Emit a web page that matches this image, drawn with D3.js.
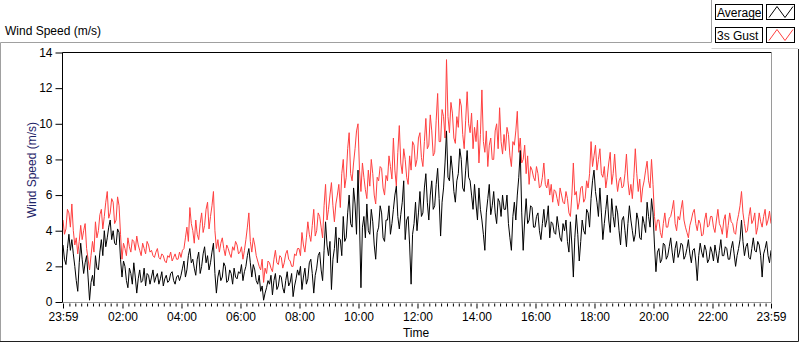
<!DOCTYPE html>
<html>
<head>
<meta charset="utf-8">
<script src="https://cdn.jsdelivr.net/npm/d3@7"></script>
<style>
  body { margin: 0; background: #fff; }
  svg text { font-family: "Liberation Sans", Arial, sans-serif; }
</style>
</head>
<body>
<svg id="chart" width="800" height="342"></svg>
<script>
// one reading every 3 minutes, 23:59 -> 23:59 next day (20 readings per row = 1 hour)
var gustSpeed = [
  4.6, 3.8, 4.1, 5.2, 5.0, 4.2, 5.5, 4.0, 3.2, 3.6, 2.7, 3.4, 4.3, 3.5, 4.0, 4.4, 3.0, 2.4, 1.8, 2.6,
  3.4, 2.8, 4.5, 3.6, 4.0, 4.9, 5.2, 4.1, 4.8, 5.6, 6.2, 4.7, 5.0, 5.8, 5.6, 4.4, 4.6, 5.9, 5.4, 3.8,
  2.4, 3.3, 3.0, 2.6, 3.6, 3.1, 2.8, 3.5, 3.4, 2.9, 3.7, 3.2, 2.9, 2.6, 3.3, 3.0, 2.7, 3.4, 3.2, 2.8,
  2.9, 2.6, 2.5, 2.8, 3.0, 2.5, 2.4, 2.7, 2.6, 2.3, 2.2, 2.6, 2.5, 2.8, 2.3, 2.5, 2.7, 2.4, 2.4, 2.8,
  2.5, 2.9, 3.0, 3.6, 4.2, 3.4, 5.3, 4.4, 4.0, 3.3, 4.6, 3.8, 3.5, 4.4, 5.0, 3.9, 4.3, 5.2, 5.6, 4.1,
  4.8, 5.4, 6.2, 4.0, 3.0, 3.5, 2.8, 3.3, 3.6, 3.0, 2.6, 3.2, 3.0, 2.7, 2.5, 3.1, 2.9, 3.4, 3.2, 2.7,
  2.8, 3.1, 2.4, 2.9, 3.5, 4.2, 5.0, 3.4, 2.8, 3.6, 3.2, 2.6, 2.3, 2.0, 1.8, 2.4, 1.1, 1.9, 1.6, 2.3,
  2.2, 1.9, 1.7, 2.4, 2.9, 2.2, 2.1, 2.6, 2.5, 1.9, 2.2, 2.7, 2.9, 2.4, 2.3, 2.0, 2.0, 2.7, 2.6, 3.0,
  3.0, 2.6, 3.9, 3.2, 2.8, 3.6, 4.5, 3.8, 3.4, 4.3, 5.2, 3.7, 4.0, 5.0, 4.8, 4.2, 3.6, 5.4, 6.6, 4.6,
  5.2, 6.0, 6.7, 5.4, 4.5, 5.5, 6.0, 6.6, 5.3, 7.2, 8.0, 6.4, 7.0, 8.6, 9.5, 7.2, 6.8, 7.8, 8.6, 9.6,
  10.0, 7.4, 6.2, 7.8, 7.0, 6.3, 5.8, 7.4, 6.5, 8.0, 7.2, 6.0, 5.5, 7.0, 6.8, 7.6, 7.5, 6.4, 6.0, 7.1,
  6.8, 8.2, 7.6, 6.9, 9.2, 7.4, 6.5, 8.4, 9.9, 7.8, 7.2, 8.6, 8.0, 7.0, 6.6, 8.2, 7.4, 9.0, 8.8, 7.6,
  8.0, 9.2, 9.5, 8.1, 7.6, 9.0, 10.3, 8.6, 8.8, 10.5, 9.6, 8.2, 8.4, 10.2, 11.7, 9.0, 9.0, 10.8, 10.4, 9.2,
  13.6, 10.4, 9.5, 11.2, 10.6, 9.2, 8.9, 10.4, 9.8, 11.4, 11.0, 9.4, 8.6, 10.2, 11.8, 10.0, 9.5, 10.6, 8.6, 9.8,
  9.0, 10.2, 7.8, 9.4, 11.9, 9.0, 8.4, 9.6, 7.6, 8.8, 9.2, 8.0, 8.0, 9.6, 10.0, 8.6, 10.9, 9.0, 8.3, 9.4,
  8.5, 9.8, 9.4, 8.2, 7.6, 9.0, 8.8, 9.6, 10.7, 8.4, 9.2, 7.8, 8.0, 8.8, 7.2, 8.2, 6.6, 7.6, 7.4, 7.0,
  6.8, 7.6, 7.2, 6.4, 6.5, 7.0, 7.8, 6.6, 6.4, 6.9, 6.0, 6.6, 5.6, 6.3, 6.2, 5.8, 5.4, 6.4, 6.0, 5.6,
  5.5, 6.2, 5.8, 5.0, 4.8, 6.0, 7.8, 6.0, 6.2, 5.2, 5.6, 6.4, 6.5, 5.6, 5.8, 6.8, 6.4, 7.2, 9.0, 7.6,
  8.2, 8.8, 7.4, 8.0, 8.6, 7.2, 7.0, 7.6, 6.4, 7.0, 7.8, 8.4, 6.6, 7.2, 8.3, 7.0, 6.2, 6.8, 7.0, 6.4,
  6.5, 7.2, 8.3, 6.8, 6.0, 6.6, 5.8, 7.0, 8.6, 7.2, 6.2, 6.9, 5.6, 6.4, 6.8, 7.4, 7.9, 6.8, 6.4, 8.0,
  6.6, 4.8, 4.0, 4.6, 4.6, 3.9, 3.6, 4.4, 5.0, 4.2, 4.2, 4.7, 4.8, 5.2, 5.7, 4.4, 4.0, 4.8, 4.6, 5.2,
  5.7, 4.6, 4.2, 3.9, 3.6, 4.3, 4.6, 5.0, 5.2, 4.4, 4.0, 4.6, 4.4, 3.7, 3.8, 4.6, 5.0, 4.2, 4.3, 4.8,
  4.8, 4.2, 3.9, 4.6, 5.2, 4.4, 4.2, 3.8, 4.6, 4.9, 3.6, 4.3, 5.0, 4.5, 4.4, 3.9, 3.8, 4.5, 4.9, 5.4,
  6.2, 5.0, 4.4, 3.9, 4.0, 4.8, 5.3, 4.4, 4.6, 5.0, 3.8, 4.2, 5.0, 4.5, 4.2, 4.8, 5.2, 4.3, 4.6, 5.1, 4.4
];
var avgSpeed = [
  3.2, 2.4, 2.1, 3.0, 3.8, 2.9, 3.5, 2.7, 2.0, 1.2, 0.6, 2.2, 3.3, 2.4, 1.6, 2.2, 2.6, 1.4, 0.1, 1.1,
  1.5, 0.9, 2.6, 1.9, 1.8, 2.8, 3.5, 2.6, 4.0, 3.1, 3.6, 4.2, 4.6, 3.5, 4.0, 3.3, 3.2, 4.1, 3.9, 2.4,
  1.4, 2.3, 2.0, 1.2, 0.8, 1.9, 1.6, 1.0, 2.2, 1.4, 0.5, 1.3, 1.8, 1.1, 1.2, 1.9, 0.9, 1.6, 1.5, 1.0,
  1.4, 1.8, 1.1, 1.4, 1.6, 1.0, 1.3, 1.7, 0.9, 1.3, 1.5, 1.1, 1.2, 1.6, 1.7, 1.2, 1.0, 1.4, 1.5, 1.2,
  1.5, 1.9, 2.3, 1.4, 1.8, 2.6, 3.0, 2.2, 2.4, 1.9, 1.5, 2.4, 2.8, 1.6, 2.0, 2.7, 3.1, 2.2, 2.6, 1.8,
  2.2, 2.8, 3.3, 1.6, 0.5, 1.4, 1.8, 1.2, 1.4, 2.2, 2.0, 1.1, 1.2, 1.8, 1.6, 1.0, 1.9, 1.4, 1.3, 1.7,
  1.6, 2.1, 1.2, 1.7, 2.0, 2.6, 3.0, 2.2, 1.4, 2.1, 1.8, 1.2, 1.0, 1.5, 0.6, 0.9, 0.1, 0.5, 0.8, 1.2,
  1.0, 1.5, 0.4, 1.2, 1.6, 0.7, 0.9, 1.5, 1.4, 0.8, 0.5, 1.2, 1.7, 0.9, 1.1, 1.6, 0.3, 0.9, 1.3, 1.8,
  1.5, 2.0, 0.7, 1.4, 1.9, 1.0, 1.3, 2.2, 2.4, 1.6, 0.5, 1.5, 1.9, 2.6, 2.8, 1.8, 1.2, 2.9, 4.5, 3.2,
  2.6, 3.4, 0.7, 2.4, 3.0, 4.2, 2.2, 3.6, 3.5, 2.6, 4.8, 3.4, 3.6, 5.0, 6.0, 4.4, 4.2, 6.4, 5.5, 3.8,
  7.4, 4.6, 0.8, 4.2, 4.8, 3.6, 5.5, 4.0, 3.8, 5.2, 4.5, 3.2, 2.4, 3.9, 4.2, 5.4, 5.0, 3.6, 3.4, 4.6,
  4.6, 5.4, 3.8, 4.4, 5.2, 6.0, 6.5, 4.8, 4.1, 4.9, 5.6, 6.8, 3.5, 4.6, 4.8, 3.2, 1.0, 3.8, 4.4, 5.6,
  4.0, 5.0, 6.2, 4.8, 5.0, 6.4, 7.2, 5.6, 4.6, 6.0, 6.8, 5.2, 5.4, 6.6, 7.5, 5.8, 3.7, 5.6, 6.4, 7.8,
  9.6, 7.0, 6.8, 8.2, 7.4, 6.2, 5.6, 6.8, 7.2, 8.6, 8.0, 6.4, 6.2, 7.4, 8.5, 7.0, 6.8, 6.0, 5.2, 6.6,
  5.5, 4.6, 6.4, 5.2, 4.6, 3.8, 2.9, 5.0, 5.8, 6.6, 4.9, 5.4, 6.2, 5.0, 4.4, 5.8, 5.6, 4.8, 6.0, 5.2,
  5.2, 6.0, 4.4, 3.6, 2.9, 4.8, 5.6, 4.6, 6.0, 7.0, 8.5, 5.0, 2.9, 4.6, 5.8, 4.4, 4.6, 5.4, 5.3, 4.2,
  4.2, 4.8, 5.0, 4.0, 3.5, 4.4, 5.2, 4.2, 4.6, 5.4, 3.6, 4.5, 4.4, 3.9, 3.8, 4.8, 4.2, 3.6, 3.4, 4.4,
  4.0, 4.6, 3.4, 2.8, 4.5, 3.2, 1.4, 3.6, 4.9, 3.8, 2.3, 3.4, 4.6, 4.0, 3.8, 5.2, 5.0, 4.2, 5.8, 6.8,
  7.4, 6.2, 5.6, 4.8, 6.4, 5.0, 3.5, 4.4, 5.2, 6.0, 4.6, 3.9, 5.8, 4.8, 4.2, 5.4, 5.0, 4.0, 3.2, 4.6,
  4.8, 4.0, 3.1, 4.4, 5.4, 4.6, 4.0, 3.4, 3.8, 5.0, 4.6, 3.6, 3.5, 4.8, 4.4, 3.9, 5.6, 4.8, 4.2, 5.8,
  5.0, 3.2, 1.7, 2.8, 3.0, 2.2, 2.4, 3.3, 3.2, 2.4, 2.6, 3.1, 3.6, 2.8, 2.2, 3.0, 3.4, 2.5, 2.8, 3.3,
  3.2, 2.4, 2.6, 3.0, 3.5, 2.7, 2.2, 2.9, 3.0, 2.3, 1.2, 2.6, 3.3, 2.8, 2.5, 3.2, 2.9, 2.2, 2.4, 3.1,
  2.8, 2.3, 3.2, 2.7, 2.2, 2.9, 3.5, 2.6, 2.6, 3.1, 3.0, 2.4, 2.4, 3.0, 3.4, 2.7, 2.0, 2.6, 3.0, 3.5,
  4.6, 3.4, 2.6, 3.1, 3.3, 2.5, 2.4, 3.0, 3.6, 2.9, 2.8, 3.4, 3.2, 2.6, 1.4, 2.7, 3.0, 3.4, 2.6, 2.2, 2.9
];
var yTicks = [0, 2, 4, 6, 8, 10, 12, 14];
var seriesNames = ["Average", "3s Gust"];
var seriesColors = ["#000000", "#ff4040"];

var svg = d3.select("#chart");
var plot = { left: 62.5, right: 771.5, top: 52.5, bottom: 302.5 };

var start = new Date(2020, 0, 1, 23, 59);
var end = new Date(2020, 0, 2, 23, 59);
var stepMs = 3 * 60 * 1000;

var x = d3.scaleTime().domain([start, end]).range([63, 771]);
var y = d3.scaleLinear().domain([0, 14]).range([302, 52.5]);

// outer panel frame
svg.append("path")
    .attr("d", "M0.5,341 V42.5 H711.5 V0")
    .attr("fill", "none").attr("stroke", "#a0a0a0");
svg.append("path")
    .attr("d", "M711.5,48.5 H798")
    .attr("fill", "none").attr("stroke", "#d4d4d4");
svg.append("path")
    .attr("d", "M0,341.5 H798.5 V49")
    .attr("fill", "none").attr("stroke", "#202020");

svg.append("text")
    .attr("x", 5).attr("y", 35)
    .attr("font-size", 12).attr("fill", "#000")
    .text("Wind Speed (m/s)");

// legend
seriesNames.forEach(function (name, i) {
    var ty = 4.5 + i * 23;
    svg.append("rect")
        .attr("x", 715.5).attr("y", ty).attr("width", 47).attr("height", 15)
        .attr("fill", "#fff").attr("stroke", "#000");
    svg.append("text")
        .attr("x", 717).attr("y", ty + 12)
        .attr("font-size", 12).attr("fill", "#000")
        .text(name);
    svg.append("rect")
        .attr("x", 766.5).attr("y", ty).attr("width", 28).attr("height", 15)
        .attr("fill", "#fff").attr("stroke", "#000");
    svg.append("path")
        .attr("d", "M769," + (ty + 13) + " L777," + (ty + 2) + " L785," + (ty + 13) + " L793," + (ty + 2))
        .attr("fill", "none").attr("stroke", seriesColors[i]).attr("stroke-width", 1);
});

// plot area
svg.append("rect")
    .attr("x", plot.left).attr("y", plot.top)
    .attr("width", plot.right - plot.left).attr("height", plot.bottom - plot.top)
    .attr("fill", "#fff");

var times = gustSpeed.map(function (d, i) { return new Date(start.getTime() + i * stepMs); });

var line = d3.line()
    .x(function (d, i) { return x(times[i]); })
    .y(function (d) { return y(d); });

var g = svg.append("g");
g.append("path").datum(gustSpeed)
    .attr("d", line).attr("fill", "none")
    .attr("stroke", seriesColors[1]).attr("stroke-width", 1);
g.append("path").datum(avgSpeed)
    .attr("d", line).attr("fill", "none")
    .attr("stroke", seriesColors[0]).attr("stroke-width", 1);

// plot border: dark top/left, grey bottom/right
svg.append("path")
    .attr("d", "M" + plot.left + "," + plot.bottom + " V" + plot.top + " H" + plot.right)
    .attr("fill", "none").attr("stroke", "#000");
svg.append("path")
    .attr("d", "M" + plot.right + "," + plot.top + " V" + plot.bottom + " H" + plot.left)
    .attr("fill", "none").attr("stroke", "#9a9a9a");

// y axis
var yAxis = svg.append("g")
    .attr("transform", "translate(" + plot.left + ",0)")
    .call(d3.axisLeft(y).tickValues(yTicks).tickSize(7).tickPadding(3).tickFormat(d3.format("d")));
yAxis.select(".domain").remove();
yAxis.selectAll("text").attr("font-size", 12).attr("fill", "#000")
    .attr("font-family", "Liberation Sans, Arial, sans-serif");
yAxis.selectAll("line").attr("stroke", "#000");

svg.append("text")
    .attr("transform", "translate(36,170) rotate(-90)")
    .attr("text-anchor", "middle")
    .attr("font-size", 12).attr("fill", "#1e2468")
    .text("Wind Speed (m/s)");

// x axis
var majorTicks = [start];
for (var h = 2; h <= 22; h += 2) majorTicks.push(new Date(2020, 0, 2, h, 0));
majorTicks.push(end);
var minorTicks = [];
for (var m = 12; m < 24 * 60; m += 12) {
    var t = new Date(2020, 0, 2, 0, m);
    if (t.getMinutes() !== 0 || t.getHours() % 2 !== 0) minorTicks.push(t);
}
var fmt = d3.timeFormat("%H:%M");

var xMinor = svg.append("g")
    .attr("transform", "translate(0," + (plot.bottom + 1) + ")")
    .call(d3.axisBottom(x).tickValues(minorTicks).tickSize(3).tickFormat(""));
xMinor.select(".domain").remove();
xMinor.selectAll("line").attr("stroke", "#000");

var xAxis = svg.append("g")
    .attr("transform", "translate(0," + (plot.bottom + 1) + ")")
    .call(d3.axisBottom(x).tickValues(majorTicks).tickSize(5).tickPadding(4).tickFormat(fmt));
xAxis.select(".domain").remove();
xAxis.selectAll("line").attr("stroke", "#000");
xAxis.selectAll("text").attr("font-size", 12).attr("fill", "#000")
    .attr("font-family", "Liberation Sans, Arial, sans-serif");

svg.append("text")
    .attr("x", 416).attr("y", 337)
    .attr("text-anchor", "middle")
    .attr("font-size", 12).attr("fill", "#000")
    .text("Time");
</script>
</body>
</html>
